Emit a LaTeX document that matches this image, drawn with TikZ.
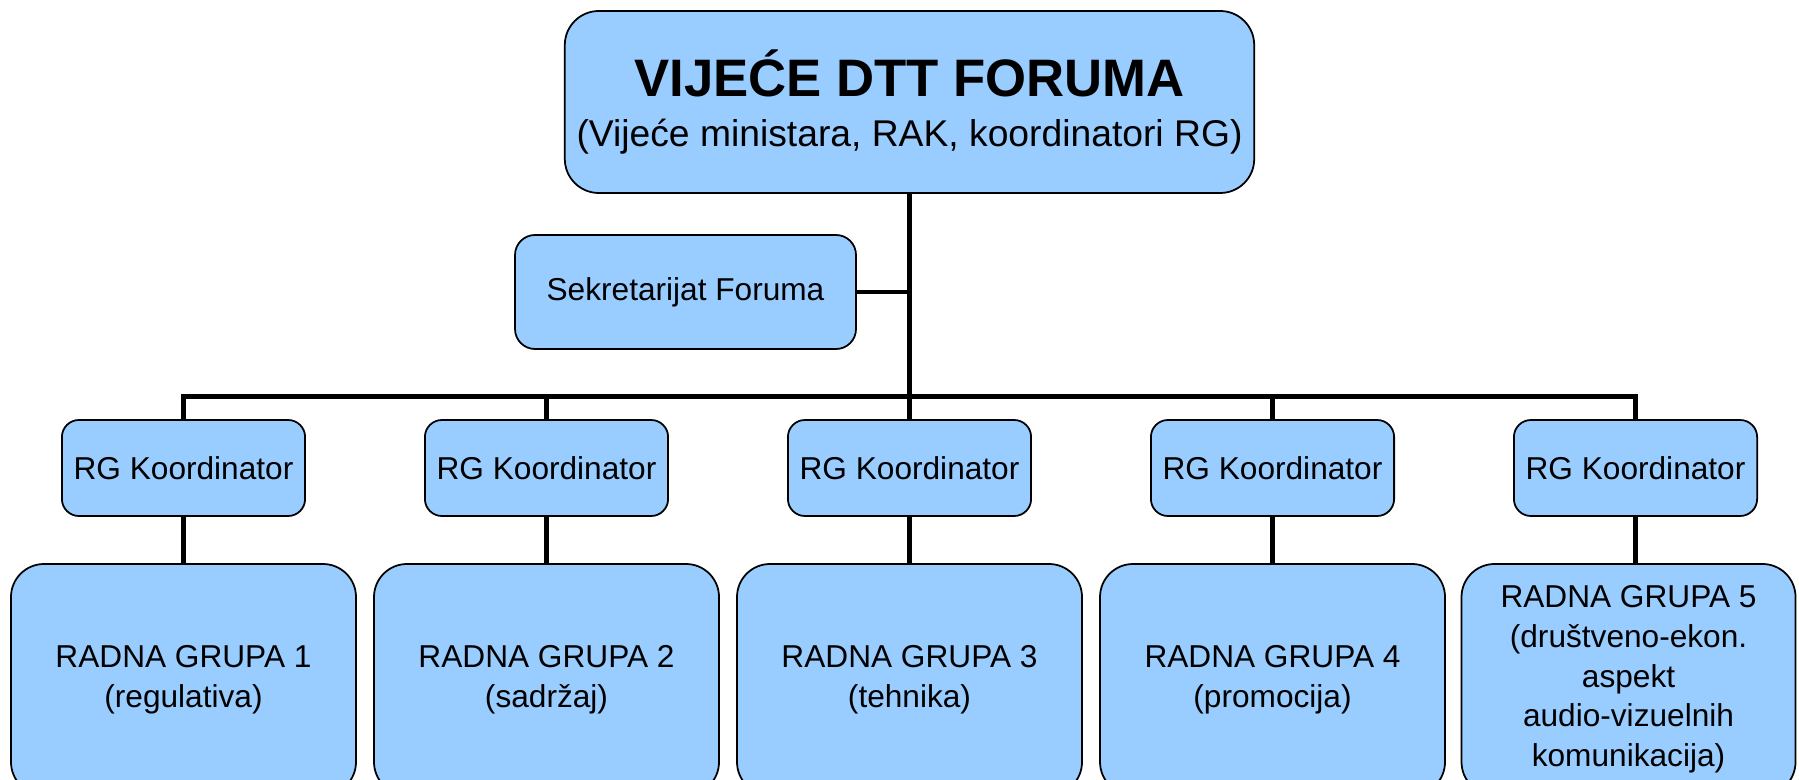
\documentclass[tikz,border=0pt]{standalone}
\usepackage{fontspec}
\setmainfont{Liberation Sans}
\usepackage{tikz}
\usetikzlibrary{positioning}
\definecolor{boxblue}{RGB}{153,204,255}
\tikzstyle{council} = [rectangle, rounded corners=0.34cm, minimum width=6.87cm, minimum height=1.82cm, text centered, align=center, draw=black, fill=boxblue]
\tikzstyle{office} = [rectangle, rounded corners=0.2cm, minimum width=3.41cm, minimum height=1.14cm, text centered, draw=black, fill=boxblue, font=\fontsize{9}{11.1}\selectfont]
\tikzstyle{coord} = [rectangle, rounded corners=0.17cm, minimum width=2.38cm, minimum height=0.96cm, text centered, draw=black, fill=boxblue, font=\fontsize{9}{11.1}\selectfont]
\tikzstyle{group} = [rectangle, rounded corners=0.33cm, minimum width=3.45cm, minimum height=2.31cm, text centered, align=center, draw=black, fill=boxblue, font=\fontsize{9}{11.3}\selectfont]
\tikzstyle{link} = [line width=1.4pt]

\begin{document}
\begin{tikzpicture}[node distance=3.63cm, line width=0.5pt]
                \useasboundingbox (0,0) rectangle (17.99,-7.80);
                \node (council) [council] at (9.095,-1.02) {{\fontsize{15}{18}\selectfont\bfseries VIJEĆE DTT FORUMA}\\[2pt]{\fontsize{10.6}{12.5}\selectfont (Vijeće ministara, RAK, koordinatori RG)}};
                \node (office) [office, left of=council, xshift=1.39cm, yshift=-1.9cm] {Sekretarijat Foruma};
                \node (c3) [coord, below of=council, yshift=-0.03cm] {RG Koordinator};
                \node (c2) [coord, left of=c3] {RG Koordinator};
                \node (c1) [coord, left of=c2] {RG Koordinator};
                \node (c4) [coord, right of=c3] {RG Koordinator};
                \node (c5) [coord, right of=c4] {RG Koordinator};
                \node (g1) [group, below of=c1, yshift=1.515cm] {RADNA GRUPA 1\\(regulativa)};
                \node (g2) [group, below of=c2, yshift=1.515cm] {RADNA GRUPA 2\\(sadržaj)};
                \node (g3) [group, below of=c3, yshift=1.515cm] {RADNA GRUPA 3\\(tehnika)};
                \node (g4) [group, below of=c4, yshift=1.515cm] {RADNA GRUPA 4\\(promocija)};
                \node (g5) [group, below of=c5, yshift=1.515cm, xshift=-0.07cm, minimum width=3.34cm] {RADNA GRUPA 5\\(društveno-ekon.\\aspekt\\audio-vizuelnih\\komunikacija)};
                \coordinate [above=0.23cm of c3.north] (bus);

                \draw[link] (council.south) -- (c3.north);
                \draw[link] (office.east) -- (office.east -| council.south);
                \draw[link] (c1.north) |- (bus) -| (c5.north);
                \draw[link] (c2.north) -- (c2.north |- bus);
                \draw[link] (c4.north) -- (c4.north |- bus);
                \draw[link] (c1) -- (g1);
                \draw[link] (c2) -- (g2);
                \draw[link] (c3) -- (g3);
                \draw[link] (c4) -- (g4);
                \draw[link] (c5.south) -- (c5.south |- g5.north);
            \end{tikzpicture}
\end{document}
